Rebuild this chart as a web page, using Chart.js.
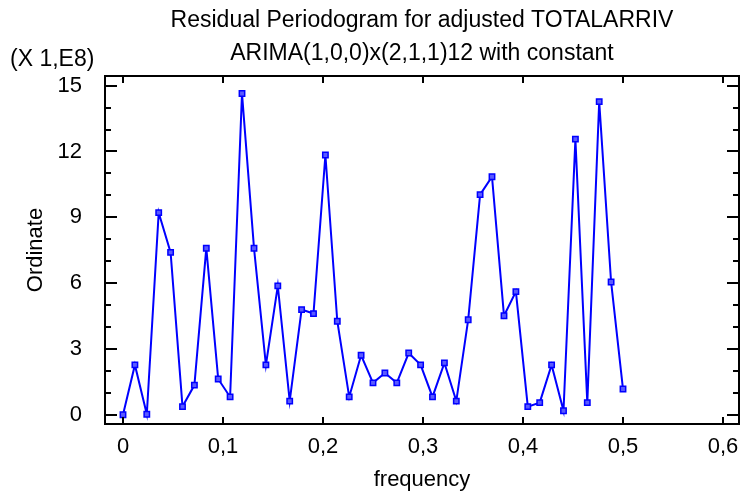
<!DOCTYPE html>
<html>
<head>
<meta charset="utf-8">
<script src="https://cdn.jsdelivr.net/npm/chart.js@4"></script>
<style>
  html, body { margin: 0; padding: 0; background: #ffffff; }
  canvas { display: block; }
</style>
</head>
<body>
<canvas id="c" width="741" height="496"></canvas>
<script>
// ---- data ----
const titleLines = ['Residual Periodogram for adjusted TOTALARRIV', 'ARIMA(1,0,0)x(2,1,1)12 with constant'];
const xTitle = 'frequency';
const yTitle = 'Ordinate';
const yMultiplier = '(X 1,E8)';
const frequency = [0, 0.0119, 0.0238, 0.0357, 0.0476, 0.0595, 0.0714, 0.0833, 0.0952, 0.1071,
  0.1190, 0.1310, 0.1429, 0.1548, 0.1667, 0.1786, 0.1905, 0.2024, 0.2143, 0.2262,
  0.2381, 0.2500, 0.2619, 0.2738, 0.2857, 0.2976, 0.3095, 0.3214, 0.3333, 0.3452,
  0.3571, 0.3690, 0.3810, 0.3929, 0.4048, 0.4167, 0.4286, 0.4405, 0.4524, 0.4643,
  0.4762, 0.4881, 0.5000];
const ordinate = [0, 2.27, 0.02, 9.21, 7.40, 0.37, 1.35, 7.59, 1.63, 0.81,
  14.64, 7.59, 2.27, 5.87, 0.62, 4.79, 4.61, 11.84, 4.26, 0.81,
  2.71, 1.45, 1.90, 1.45, 2.81, 2.27, 0.81, 2.36, 0.62, 4.33,
  10.03, 10.85, 4.51, 5.61, 0.37, 0.55, 2.27, 0.18, 12.56, 0.55,
  14.27, 6.05, 1.17];
const xTicks = [0, 0.1, 0.2, 0.3, 0.4, 0.5, 0.6];
const yTicks = [0, 3, 6, 9, 12, 15];
const yMinorTicks = [0, 1, 2, 3, 4, 5, 6, 7, 8, 9, 10, 11, 12, 13, 14, 15];

const FONT = '"Liberation Sans", Arial, sans-serif';
const FS = 22;
const TFS = 23;

const framePlugin = {
  id: 'frame',
  afterDraw(chart) {
    const ctx = chart.ctx;
    const a = chart.chartArea;
    const xs = chart.scales.x, ys = chart.scales.y;
    ctx.save();
    ctx.strokeStyle = '#000';
    ctx.lineWidth = 2;
    ctx.strokeRect(a.left, a.top, a.right - a.left, a.bottom - a.top);
    ctx.beginPath();
    yMinorTicks.forEach(v => {
      const y = Math.round(ys.getPixelForValue(v));
      const len = (v % 3 === 0) ? 12 : 6;
      ctx.moveTo(a.left, y); ctx.lineTo(a.left + len, y);
      ctx.moveTo(a.right, y); ctx.lineTo(a.right - len, y);
    });
    xTicks.forEach(v => {
      const x = Math.round(xs.getPixelForValue(v));
      ctx.moveTo(x, a.bottom); ctx.lineTo(x, a.bottom - 7);
      ctx.moveTo(x, a.top); ctx.lineTo(x, a.top + 7);
    });
    ctx.stroke();

    ctx.fillStyle = '#000';
    ctx.textBaseline = 'alphabetic';
    const cx = (a.left + a.right) / 2;
    ctx.textAlign = 'center';
    ctx.font = TFS + 'px ' + FONT;
    ctx.fillText(titleLines[0], cx, 27);
    ctx.fillText(titleLines[1], cx, 60);
    ctx.font = FS + 'px ' + FONT;
    ctx.fillText(xTitle, cx, 486);
    ctx.textAlign = 'left';
    ctx.font = TFS + 'px ' + FONT;
    ctx.fillText(yMultiplier, 10, 66);
    ctx.font = FS + 'px ' + FONT;
    ctx.save();
    ctx.translate(42, (a.top + a.bottom) / 2);
    ctx.rotate(-Math.PI / 2);
    ctx.textAlign = 'center';
    ctx.fillText(yTitle, 0, 0);
    ctx.restore();
    ctx.restore();
  }
};

new Chart(document.getElementById('c'), {
  type: 'line',
  data: {
    datasets: [{
      data: frequency.map((f, i) => ({ x: f, y: ordinate[i] })),
      borderColor: '#0000ff',
      backgroundColor: '#3a3aff',
      borderWidth: 2,
      pointStyle: 'rect',
      pointRadius: 3.8,
      pointBorderWidth: 1.5,
      pointBorderColor: '#0000ff',
      pointBackgroundColor: '#5a5aff',
      tension: 0,
      clip: false
    }]
  },
  options: {
    responsive: false,
    animation: false,
    devicePixelRatio: 1,
    layout: { autoPadding: false, padding: { top: 76, right: 2, left: 0, bottom: 0 } },
    plugins: { legend: { display: false }, title: { display: false }, tooltip: { enabled: false } },
    scales: {
      x: {
        type: 'linear',
        position: 'bottom',
        min: -0.018,
        max: 0.616,
        grid: { display: false },
        border: { display: false },
        afterBuildTicks: s => { s.ticks = xTicks.map(v => ({ value: v })); },
        afterFit: s => { s.height = 72; s.paddingLeft = 0; s.paddingRight = 0; },
        ticks: {
          padding: 2,
          maxRotation: 0,
          autoSkip: false,
          color: '#000',
          font: { family: FONT, size: FS },
          callback: v => String(Math.round(v * 10) / 10).replace('.', ',')
        }
      },
      y: {
        type: 'linear',
        min: -0.424,
        max: 15.44,
        grid: { display: false },
        border: { display: false },
        afterBuildTicks: s => { s.ticks = yTicks.map(v => ({ value: v })); },
        afterFit: s => { s.width = 105; s.paddingTop = 0; s.paddingBottom = 0; },
        ticks: {
          padding: 15,
          autoSkip: false,
          color: '#000',
          font: { family: FONT, size: FS },
          callback: v => String(v)
        }
      }
    }
  },
  plugins: [framePlugin]
});
</script>
</body>
</html>
